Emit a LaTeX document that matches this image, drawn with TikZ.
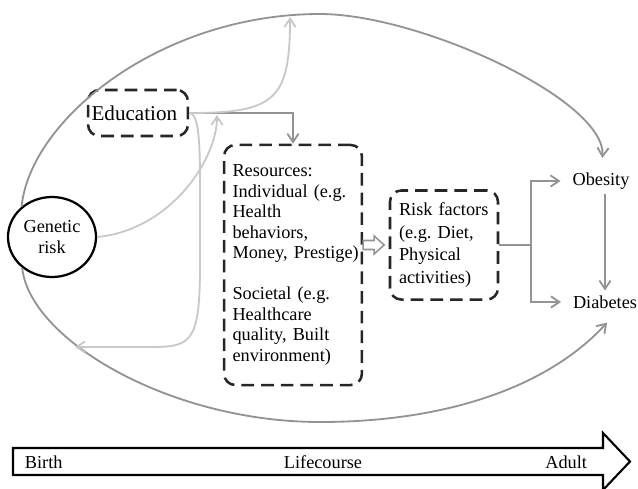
\documentclass[tikz,border=0pt]{standalone}
\usepackage{fontspec}
\setmainfont{Liberation Serif}
\usetikzlibrary{arrows.meta,shapes.geometric}

\definecolor{linkgray}{HTML}{939393}
\definecolor{palegray}{HTML}{C8C8C8}

\tikzset{
  dashbox/.style={draw=black!85, line width=1.8pt, dash pattern=on 9pt off 5pt,
    rounded corners=8pt, align=left},
  link/.style={draw=linkgray, line width=1.3pt,
    -{Straight Barb[length=6pt,width=8pt]}},
  palelink/.style={link, draw=palegray},
}

\begin{document}
\begin{tikzpicture}[x=0.025cm, y=-0.025cm,
    every node/.style={font=\fontsize{13}{14.6}\selectfont\frenchspacing}]
  \useasboundingbox (0,0) rectangle (638,488);

  % nodes
  \node [ellipse, draw, line width=1.6pt, minimum width=2.2cm, minimum height=2cm,
    inner sep=0pt, align=center] (gen) at (52,237) {Genetic\\risk};
  \node [dashbox, font=\fontsize{15}{17}\selectfont, text width=66pt, inner xsep=2.5pt,
    minimum height=32.7pt] (edu) at (138,113) {Education};
  \node [dashbox, text width=86pt, inner xsep=6pt, minimum height=6cm] (res) at (293,265)
    {Resources:\\Individual (e.g.\\Health\\behaviors,\\\mbox{Money, Prestige)}\\[14.6pt]
     Societal (e.g.\\Healthcare\\quality, Built\\environment)};
  \node [dashbox, font=\fontsize{13}{16}\selectfont\frenchspacing, text width=64pt,
    inner xsep=6.4pt, minimum height=2.725cm] (risk) at (444,245)
    {Risk factors\\(e.g. Diet,\\Physical\\activities)};
  \node (obes) at (601,181) {Obesity};
  \node (diab) at (605,302) {Diabetes};

  % lifecourse
  \draw [line width=1.5pt] (13,448) -- (603,448) -- (603,433) -- (630,461.5)
    -- (603,490) -- (603,475) -- (13,475) -- cycle;
  \node [anchor=west] (birth) at (20,462) {Birth};
  \node (life) at (323,462) {Lifecourse};
  \node [anchor=east] (adult) at (592,462) {Adult};

  % free ends
  \coordinate (genup) at (217,115);
  \coordinate (eduup) at (290,17);
  \coordinate (edudown) at (75,347);

  % links
  \draw [link] (edu.east) -| (res.north);
  \draw [draw=linkgray, line width=1.1pt, fill=white] (res.east |- risk.west)
    ++(0,-4.5) -- ++(11,0) -- ++(0,-4.5) -- ++(10,9) -- ++(-10,9) -- ++(0,-4.5)
    -- ++(-11,0) -- cycle;
  \draw [draw=linkgray, line width=1.3pt] (risk.east) -- ++(32,0) coordinate (fork);
  \draw [link, shorten >=5pt] (fork) |- (obes.west);
  \draw [link, shorten >=5pt] (fork) |- (diab.west);
  \draw [link] (obes.south -| diab.north) -- (diab.north);
  \draw [link] (gen.135) .. controls (30,120) and (160,14) .. (320,14)
    .. controls (420,14) and (606,100) .. ([xshift=1pt,yshift=7pt]obes.north);
  \draw [link] (gen.226) .. controls (30,340) and (170,422) .. (320,422)
    .. controls (450,422) and (550,385) .. ([xshift=1.5pt,yshift=-6.5pt]diab.south);

  \draw [palelink] (gen.east) .. controls (170,230) and (217,160) .. (genup);
  \draw [palelink] (edu.east) .. controls (275,113) and (290,100) .. (eduup);
  \draw [palelink] (edu.east) .. controls (197,113) and (200,130) .. (200,180) -- (200,265)
    .. controls (200,347) and (190,347) .. (145,347) -- (edudown);
\end{tikzpicture}
\end{document}
